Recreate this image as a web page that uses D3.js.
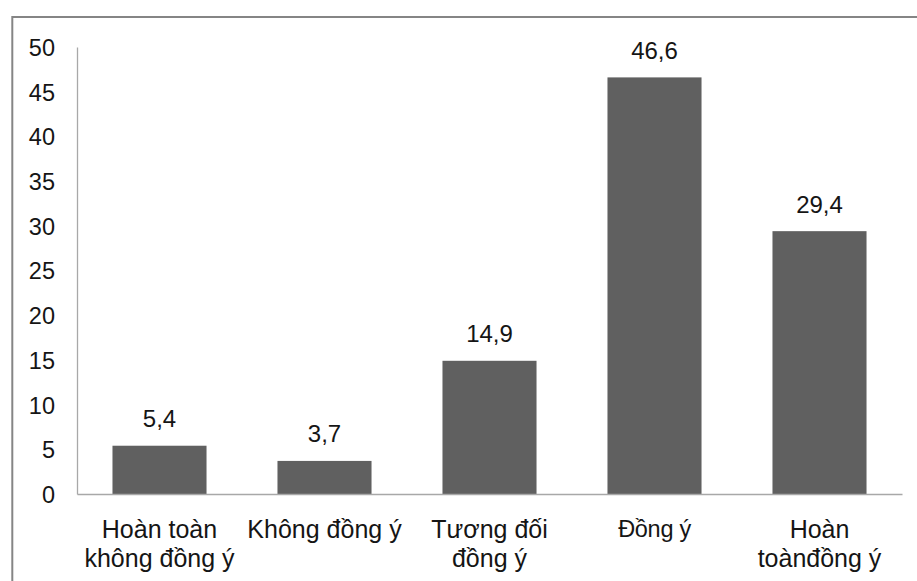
<!DOCTYPE html>
<html>
<head>
<meta charset="utf-8">
<script src="https://cdn.jsdelivr.net/npm/d3@7"></script>
<style>
  html, body { margin: 0; padding: 0; background: #fff; }
  svg { display: block; }
  text { font-family: "Liberation Sans", Arial, sans-serif; fill: #151515; }
</style>
</head>
<body>
<svg id="chart" width="917" height="581"></svg>
<script>
// Response categories (line breaks mark the wrapped axis labels)
const categories = [
  "Hoàn toàn\nkhông đồng ý",
  "Không đồng ý",
  "Tương đối\nđồng ý",
  "Đồng ý",
  "Hoàn\ntoànđồng ý"
];
// Percentage of respondents per category
const values = [5.4, 3.7, 14.9, 46.6, 29.4];
// Y axis tick values
const yTicks = [0, 5, 10, 15, 20, 25, 30, 35, 40, 45, 50];

const svg = d3.select("#chart");
const plot = { left: 77, right: 902, top: 47, bottom: 494 };

// outer chart frame
svg.append("rect")
  .attr("x", 12.3).attr("y", 17)
  .attr("width", 1000).attr("height", 700)
  .attr("fill", "none")
  .attr("stroke", "#858585")
  .attr("stroke-width", 2);

const x = d3.scaleBand()
  .domain(categories)
  .range([plot.left, plot.right])
  .paddingInner(0.43)
  .paddingOuter(0.215);

const y = d3.scaleLinear()
  .domain([0, 50])
  .range([plot.bottom, plot.top]);

const locale = d3.formatLocale({ decimal: ",", thousands: ".", grouping: [3], currency: ["", ""] });
const fmt = locale.format(".1f");

// bars
svg.append("g").selectAll("rect")
  .data(values)
  .join("rect")
  .attr("x", (d, i) => x(categories[i]))
  .attr("y", d => y(d))
  .attr("width", x.bandwidth())
  .attr("height", d => y(0) - y(d))
  .attr("fill", "#606060");

// value labels above the bars
svg.append("g").selectAll("text")
  .data(values)
  .join("text")
  .attr("x", (d, i) => x(categories[i]) + x.bandwidth() / 2)
  .attr("y", d => y(d) - 18.5)
  .attr("text-anchor", "middle")
  .style("font-size", "24px")
  .text(d => fmt(d));

// y axis
const yAxis = svg.append("g")
  .attr("transform", `translate(${plot.left},0)`)
  .call(d3.axisLeft(y).tickValues(yTicks).tickSize(0).tickPadding(22).tickFormat(d3.format("d")));
yAxis.select(".domain").attr("stroke", "#a8a8a8").attr("stroke-width", 1.3);
yAxis.selectAll("text")
  .style("font-size", "23.5px")
  .style("font-family", "\"Liberation Sans\", Arial, sans-serif")
  .attr("fill", "#151515")
  .attr("dy", "0.36em");

// x axis
const xAxis = svg.append("g")
  .attr("transform", `translate(0,${plot.bottom})`)
  .call(d3.axisBottom(x).tickSize(0).tickSizeOuter(0));
xAxis.select(".domain").attr("stroke", "#a8a8a8").attr("stroke-width", 1.3);
xAxis.selectAll(".tick text").each(function (d) {
  const t = d3.select(this);
  const single = d === "Đồng ý";
  t.text(null)
    .attr("y", 0).attr("dy", null)
    .attr("fill", "#151515")
    .style("font-family", "\"Liberation Sans\", Arial, sans-serif")
    .style("font-size", single ? "23.5px" : "25px")
    .style("letter-spacing", single ? "-0.3px" : null);
  d.split("\n").forEach((line, i) => {
    t.append("tspan")
      .attr("x", 0)
      .attr("y", (single ? 42.7 : 44.3) + i * 28.7)
      .text(line);
  });
});
</script>
</body>
</html>
